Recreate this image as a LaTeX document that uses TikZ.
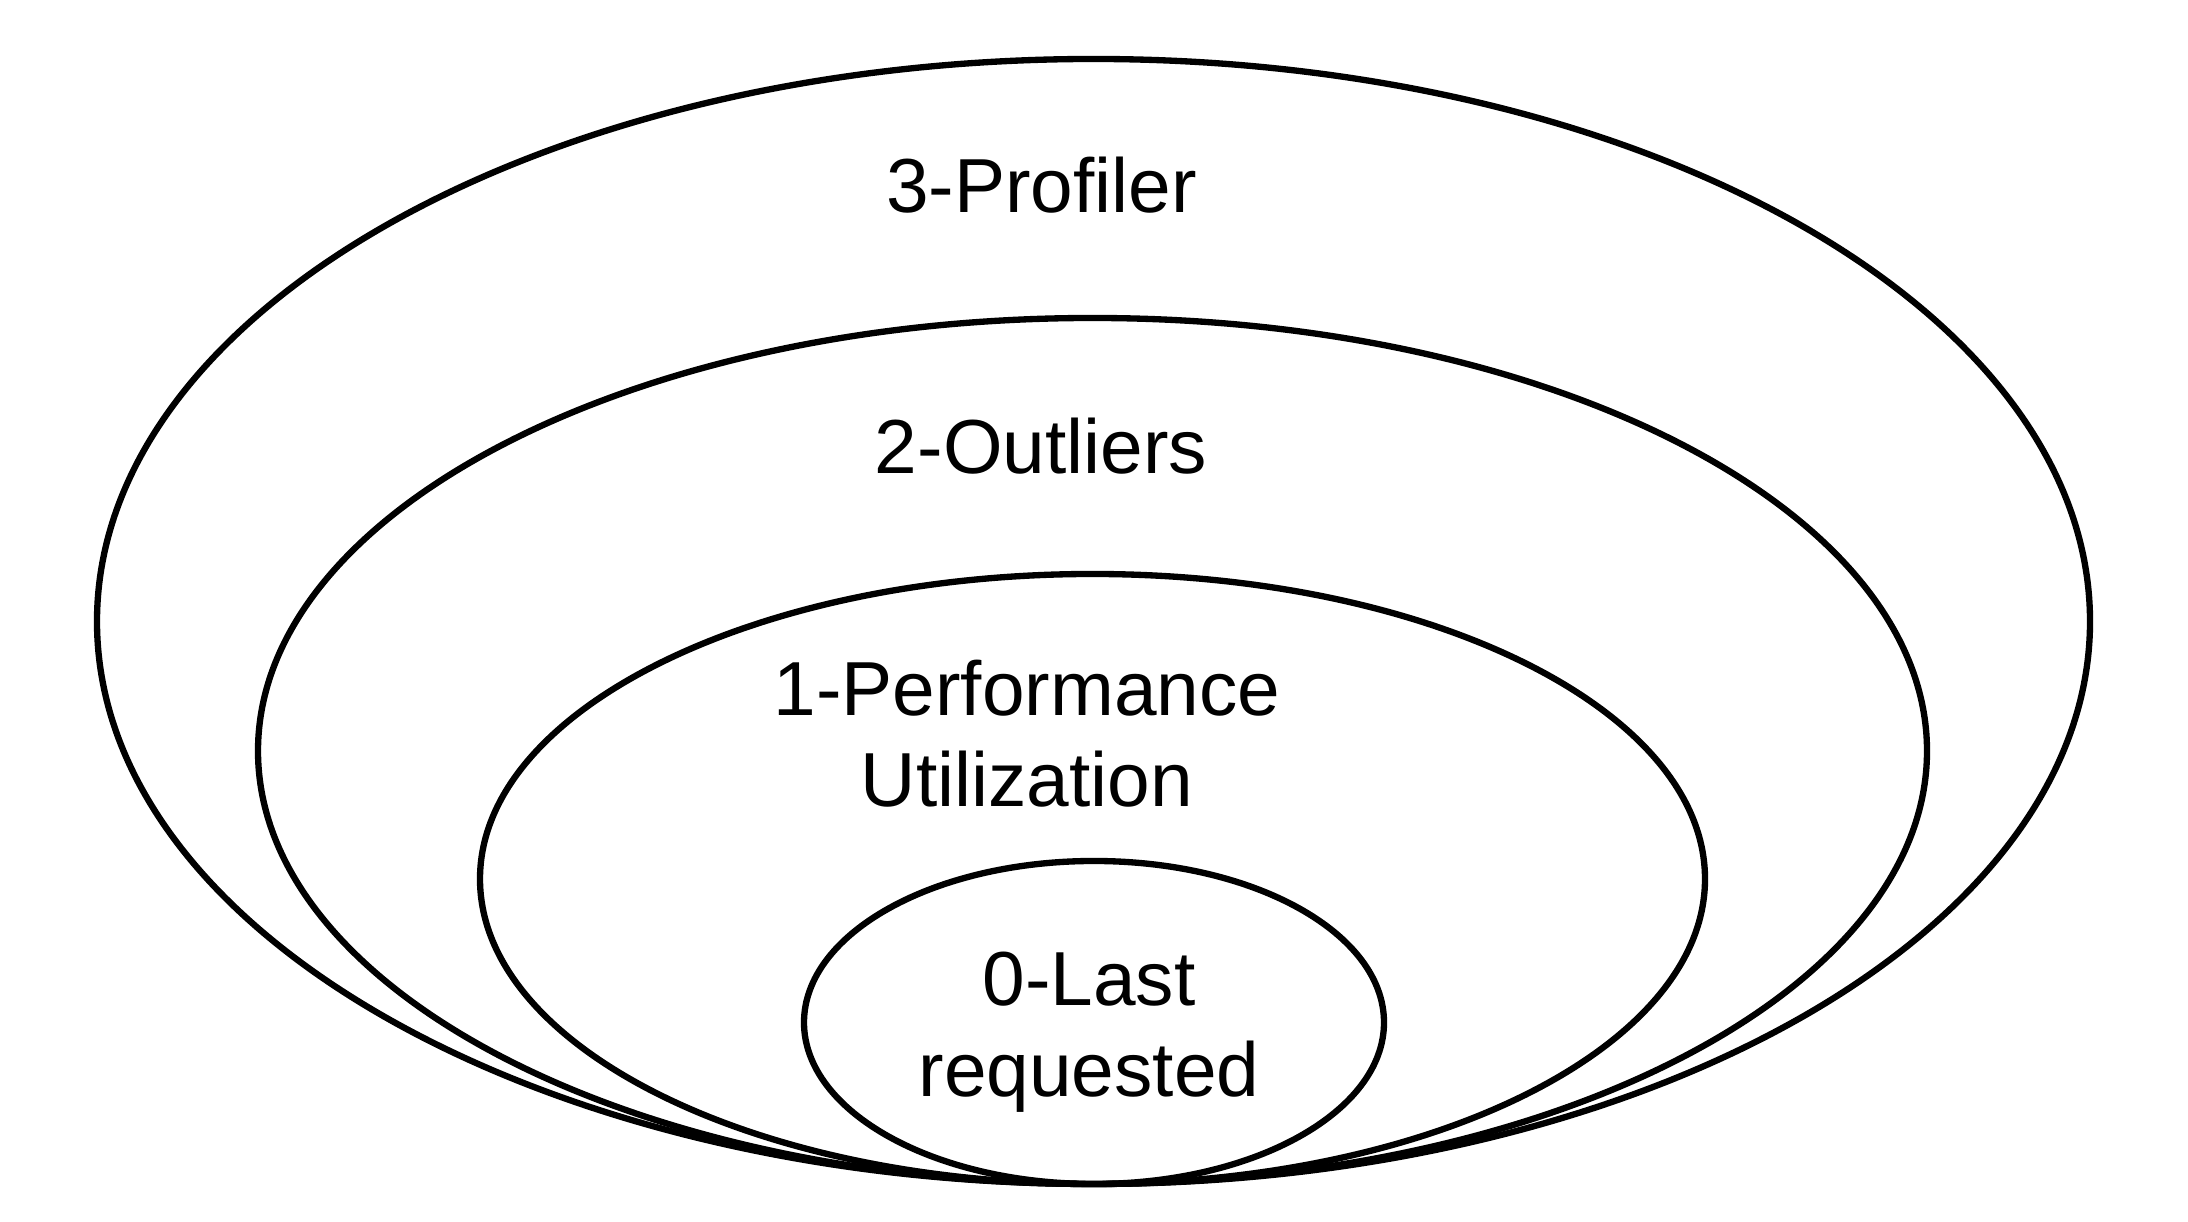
\documentclass[tikz,border=0pt]{standalone}
\usepackage{fontspec}
\setmainfont{Liberation Sans}
\usepackage{tikz}
\usetikzlibrary{positioning,shapes.geometric}

\begin{document}
\begin{tikzpicture}[
    ring/.style={ellipse, draw, line width=1.8pt, inner sep=0pt, outer sep=0pt},
    lbl/.style={anchor=base, align=center, font=\fontsize{21.8pt}{25.9pt}\selectfont},
]
\useasboundingbox (0,0) rectangle (21.88,12.22);
% nested rings, all touching at the bottom
\node[ring, minimum width=19.93cm, minimum height=11.25cm] (profiler) at (10.935,6.005) {};
\node[ring, minimum width=16.69cm, minimum height=8.66cm] (outliers) at (10.925,4.71) {};
\node[ring, minimum width=12.25cm, minimum height=6.10cm] (perf) at (10.925,3.43) {};
\node[ring, minimum width=5.80cm, minimum height=3.23cm] (last) at (10.94,1.995) {};
% labels (base = last line)
\node[lbl] (profiler-txt) at (10.415,10.09) {3-Profiler};
\node[lbl] (outliers-txt) at (10.41,7.48) {2-Outliers};
\node[lbl] (perf-txt) at (10.27,4.15) {1-Performance\\Utilization};
\node[lbl] (last-txt) at (10.89,1.25) {0-Last\\requested};
\end{tikzpicture}
\end{document}
